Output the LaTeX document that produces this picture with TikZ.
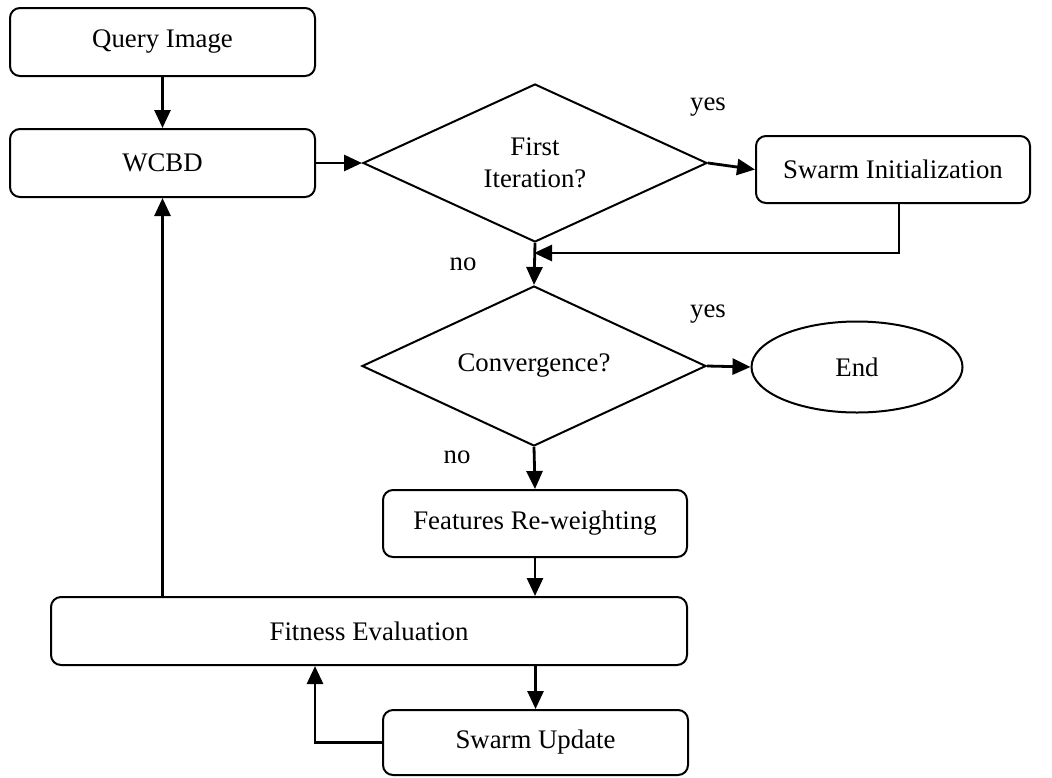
\documentclass[tikz,border=0pt]{standalone}
\usepackage{fontspec}
\setmainfont{Liberation Serif}
\usetikzlibrary{shapes.geometric,arrows.meta}

\tikzset{
  procbox/.style={draw, line width=1pt, rounded corners=5pt, minimum height=34pt, inner sep=0pt},
  decision/.style={draw, diamond, line width=1pt, aspect=2.18, inner sep=0pt,
                   minimum width=172pt, minimum height=79pt, align=center},
  flow/.style={line width=1.4pt, -{Triangle[length=9pt,width=8pt]}},
  plain/.style={line width=1.4pt}
}

\begin{document}
\begin{tikzpicture}[x=0.5pt, y=-0.5pt, font=\fontsize{13.4}{16}\selectfont]
  \useasboundingbox (0,0) rectangle (1052,777);

  % Boxes
  \node[procbox, minimum width=152.5pt] (query) at (162.5,42) {Query Image};
  \node[procbox, minimum width=152.5pt] (wcbd) at (162.5,163) {WCBD};
  \node[procbox, minimum width=137pt, minimum height=33.5pt] (init) at (893,169.5) {Swarm Initialization};
  \node[procbox, minimum width=152pt, minimum height=33.5pt] (reweight) at (535,523.5) {Features Re-weighting};
  \node[procbox, minimum width=318pt] (fitness) at (369,631) {Fitness Evaluation};
  \node[procbox, minimum width=152.5pt, minimum height=32.5pt] (update) at (535.5,742.5) {Swarm Update};

  % Decisions
  \node[decision] (first) at (535,163) {First\\Iteration?};
  \node[decision, minimum height=80pt] (conv) at (534,366) {Convergence?};
  \node[draw, ellipse, line width=1pt, minimum width=105.5pt, minimum height=45.5pt] (stop) at (857,367) {End};

  % Labels
  \node (yes1) at (708,107) {yes};
  \node (no1) at (463,264) {no};
  \node (yes2) at (708,314) {yes};
  \node (no2) at (457,457) {no};

  \coordinate (merge) at (534,253);

  % Connectors
  \draw[flow] (query.south) -- (wcbd.north);
  \draw[flow] (wcbd.east) -- (first.west);
  \draw[flow] (first.east) -- (init.west);
  \draw[flow] ([xshift=3pt]init.south) |- (merge);
  \draw[flow] (first.south) -- (conv.north);
  \draw[flow] (conv.east) -- (stop.west);
  \draw[flow] (conv.south) -- (reweight.north);
  \draw[flow] (reweight.south) -- (reweight.south |- fitness.north);
  \draw[flow] (update.north |- fitness.south) -- (update.north);
  \draw[flow] (update.west) -| ([xshift=-27pt]fitness.south);
  \draw[flow] (fitness.north -| wcbd.south) -- (wcbd.south);
\end{tikzpicture}
\end{document}
